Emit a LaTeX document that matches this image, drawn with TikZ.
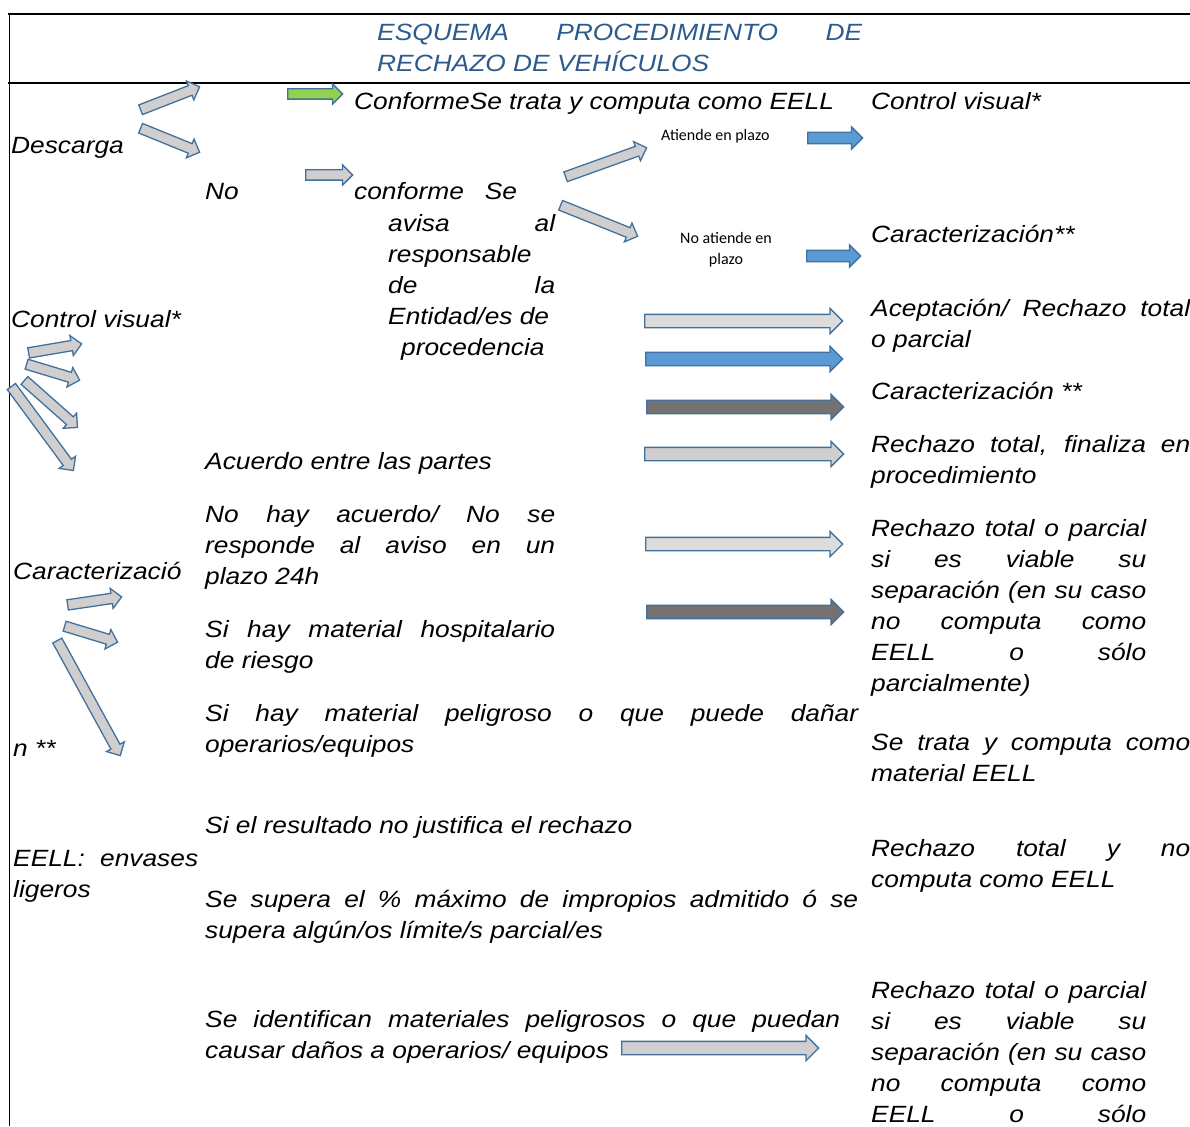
\documentclass[tikz,border=0pt]{standalone}
\usepackage{fontspec}
\setmainfont[FakeStretch=1.12]{Liberation Sans}
\newfontfamily\calfont{Carlito}
\usepackage{tikz}
\usetikzlibrary{calc,shapes.arrows}

\definecolor{titleblue}{HTML}{2B5B8C}
\definecolor{edgeblue}{HTML}{41719C}
\definecolor{fillblue}{HTML}{5B9BD5}
\definecolor{fillgreen}{HTML}{92D050}
\definecolor{filldark}{HTML}{767171}
\definecolor{fillgray}{HTML}{D0CECE}
\definecolor{filllight}{HTML}{DCDCDC}

\newcommand{\bodyfont}{\fontsize{23.5}{31}\selectfont\itshape}
\newcommand{\labelfont}{\fontsize{16}{21}\selectfont\calfont}

% block arrow from tail to tip
\newcommand{\blockarr}[4]{%
  \path let \p1=#3, \p2=#4, \n1={veclen(\x2-\x1,\y2-\y1)}, \n2={atan2(\y2-\y1,\x2-\x1)} in
    node[blockarrow,#2,minimum height=\n1,rotate=\n2,anchor=tail] (#1) at (\p1) {};}

\begin{document}
\begin{tikzpicture}[
x=1pt, y=-1pt,
txt/.style={anchor=base west, inner sep=0pt, font=\bodyfont},
jtxt/.style={txt, text width=#1, align=justify},
blockarrow/.style={single arrow, draw=edgeblue, line width=1.3pt, inner xsep=0pt,
  minimum width=1pt, single arrow tip angle=90},
small/.style={inner ysep=4.5pt, single arrow head extend=5pt},
wide/.style={inner ysep=6pt, single arrow head extend=6pt},
grayarr/.style={fill=fillgray},
lightarr/.style={fill=filllight},
bluearr/.style={fill=fillblue},
darkarr/.style={fill=filldark},
greenarr/.style={fill=fillgreen}
]
    \useasboundingbox (0,0) rectangle (1190,1126);

    % frame lines
    \draw[line width=1.3pt] (8,14) -- (1190,14);
    \draw[line width=1.3pt] (8,83) -- (1190,83);
    \draw[line width=1pt] (9,14) -- (9,1126);

    % title
    \node[jtxt=485pt, text=titleblue] (title) at (377,41)
      {ESQUEMA PROCEDIMIENTO DE\linebreak RECHAZO DE VEH\'ICULOS};

    % left column
    \node[txt] (descarga) at (11,154) {Descarga};
    \node[txt] (cvisual) at (11,327) {Control visual*};
    \node[txt] (carac) at (13,579) {Caracterizaci\'o};
    \node[txt] (caracb) at (13,756) {n **};
    \node[jtxt=185pt] (eell) at (13,866) {EELL: envases\linebreak ligeros};

    % middle column
    \node[txt] (conf) at (354,110) {ConformeSe trata y computa como EELL};
    \node[txt] (no) at (205,200) {No};
    \node[txt] (noconf) at (354,200) {conforme\hspace{21pt}Se};
    \node[jtxt=167pt] (aviso) at (388,231)
      {avisa al\linebreak responsable\linebreak de la\linebreak Entidad/es de\\\hspace*{13pt}procedencia};
    \node[txt] (acuerdo) at (205,469) {Acuerdo entre las partes};
    \node[jtxt=350pt] (noacuerdo) at (205,522)
      {No hay acuerdo/ No se\linebreak responde al aviso en un\linebreak plazo 24h};
    \node[jtxt=350pt] (hosp) at (205,637) {Si hay material hospitalario\linebreak de riesgo};
    \node[jtxt=653pt] (pelig) at (205,721)
      {Si hay material peligroso o que puede da\~nar\linebreak operarios/equipos};
    \node[txt] (result) at (205,833) {Si el resultado no justifica el rechazo};
    \node[jtxt=653pt] (supera) at (205,907)
      {Se supera el \% m\'aximo de impropios admitido \'o se\linebreak supera alg\'un/os l\'imite/s parcial/es};
    \node[jtxt=635pt] (ident) at (205,1027)
      {Se identifican materiales peligrosos o que puedan\linebreak causar da\~nos a operarios/ equipos};

    % small labels
    \node[anchor=base west, inner sep=0pt, font=\labelfont] (atiende) at (661,141) {Atiende en plazo};
    \node[anchor=base, inner sep=0pt, font=\labelfont, align=center] (noatiende) at (726,264)
      {No atiende en\\plazo};

    % right column
    \node[txt] (rcvisual) at (871,110) {Control visual*};
    \node[txt] (rcarac) at (871,242) {Caracterizaci\'on**};
    \node[jtxt=319pt] (acept) at (871,316) {Aceptaci\'on/ Rechazo total\linebreak o parcial};
    \node[txt] (rcaracb) at (871,399) {Caracterizaci\'on **};
    \node[jtxt=319pt] (finaliza) at (871,452) {Rechazo total, finaliza en\linebreak procedimiento};
    \node[jtxt=275pt] (parcial) at (871,536)
      {Rechazo total o parcial\linebreak si es viable su\linebreak separaci\'on (en su caso\linebreak
       no computa como\linebreak EELL o s\'olo\linebreak parcialmente)};
    \node[jtxt=319pt] (computa) at (871,750) {Se trata y computa como\linebreak material EELL};
    \node[jtxt=319pt] (nocomputa) at (871,856) {Rechazo total y no\linebreak computa como EELL};
    \node[jtxt=275pt] (parcialb) at (871,998)
      {Rechazo total o parcial\linebreak si es viable su\linebreak separaci\'on (en su caso\linebreak
       no computa como\linebreak EELL o s\'olo\linebreak};

    % arrows after Descarga
    \blockarr{a1}{small,grayarr}{(140,110)}{(199,87)}
    \blockarr{a2}{small,grayarr}{(140,128)}{(199,152)}
    \blockarr{a3}{small,greenarr}{(287,94)}{(342,94)}
    \blockarr{a4}{small,grayarr}{(305,175)}{(352,175)}
    \blockarr{a5}{small,grayarr}{(565,177)}{(646,148)}
    \blockarr{a6}{small,grayarr}{(560,205)}{(637,236)}
    \blockarr{a7}{inner ysep=5pt,single arrow head extend=5.5pt,bluearr}{(807,138)}{(862,138)}
    \blockarr{a8}{inner ysep=5pt,single arrow head extend=5.5pt,bluearr}{(806,256)}{(860,256)}

    % arrows after control visual
    \blockarr{b1}{small,grayarr}{(28,353)}{(81,344)}
    \blockarr{b2}{small,grayarr}{(26,364)}{(79,380)}
    \blockarr{b3}{small,grayarr}{(24,380)}{(77,427)}
    \blockarr{b4}{small,grayarr}{(11,386)}{(73,470)}
    \blockarr{c1}{wide,lightarr}{(644,321)}{(842,321)}
    \blockarr{c2}{wide,bluearr}{(645,359)}{(842,359)}
    \blockarr{c3}{wide,darkarr}{(646,407)}{(843,407)}
    \blockarr{c4}{wide,grayarr}{(644,454)}{(843,454)}
    \blockarr{c5}{wide,lightarr}{(645,544)}{(842,544)}
    \blockarr{c6}{wide,darkarr}{(646,612)}{(843,612)}

    % arrows after caracterizacion
    \blockarr{d1}{small,grayarr}{(67,605)}{(121,597)}
    \blockarr{d2}{small,grayarr}{(64,626)}{(117,642)}
    \blockarr{d3}{small,grayarr}{(57,640)}{(120,755)}
    \blockarr{e1}{wide,grayarr}{(621,1048)}{(818,1048)}
\end{tikzpicture}
\end{document}
